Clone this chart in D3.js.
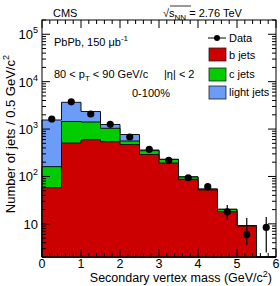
<!DOCTYPE html>
<html><head><meta charset="utf-8">
<script src="https://cdn.jsdelivr.net/npm/d3@7"></script>
<style>
html,body{margin:0;padding:0;background:#fff;}
text{font-family:"Liberation Sans",Arial,Helvetica,sans-serif;fill:#000;}
</style></head>
<body><svg id="c" width="280" height="286"></svg>
<script>
// ---- data ----
const binLow = [0,0.5,1,1.5,2,2.5,3,3.5,4,4.5,5,5.5];
const binWidth = 0.5;
const bJets =     [58, 508, 597, 541, 472, 291, 192, 87, 52, 18, 9, 0];
const cJets =     [103, 937, 813, 497, 88, 59, 36, 10.5, 2, 2.3, 0.2, 0];
const lightJets = [1392, 2225, 940, 210, 208, 12, 3, 1, 0.5, 0, 0, 0];
const dataVals =  [1630, 3760, 2080, 1262, 680, 374, 219, 94, 61, 18, 6.0, 8.4];
const dataErrHi = [40, 61, 46, 36, 26, 19, 15, 10, 8, 7, 7.3, 5.6];
const dataErrLo = [40, 61, 46, 36, 26, 19, 15, 10, 8, 6, 2.4, 5.9];
const xTicks = [0,1,2,3,4,5,6];
const yTickExp = [1,2,3,4,5];
const legendLabels = ["Data","b jets","c jets","light jets"];
const colors = {b:"#cc0000", c:"#00cc00", l:"#6a9cf8"};

const svg = d3.select("#c");
const X0=42, X1=276, Y0=20, Y1=257;
const x = d3.scaleLinear().domain([0,6]).range([X0,X1]);
const y = d3.scaleLog().domain([2,2e5]).range([Y1,Y0]).clamp(true);
const yv = v => v>0 ? y(v) : Y1;

// stacked cumulative levels
const lev1 = bJets.slice();
const lev2 = bJets.map((v,i)=>v+cJets[i]);
const lev3 = lev2.map((v,i)=>v+lightJets[i]);

function stepPath(vals){
  let p = `M${x(0)},${Y1}`;
  vals.forEach((v,i)=>{
    const lo=binLow[i], hi=lo+binWidth;
    p += `L${x(lo)},${yv(v)}L${x(hi)},${yv(v)}`;
  });
  p += `L${x(6)},${Y1}Z`;
  return p;
}
[[lev3,colors.l],[lev2,colors.c],[lev1,colors.b]].forEach(([vals,col])=>{
  svg.append("path").attr("d",stepPath(vals)).attr("fill",col)
    .attr("stroke","#111").attr("stroke-width",1);
});

// frame
svg.append("rect").attr("x",X0).attr("y",Y0).attr("width",X1-X0).attr("height",Y1-Y0)
  .attr("fill","none").attr("stroke","#000").attr("stroke-width",1);

// x ticks (bottom & top)
const xMinor = d3.range(0,6.001,0.2);
const g = svg.append("g").attr("stroke","#000").attr("stroke-width",1);
xMinor.forEach(t=>{
  const major = Math.abs(t-Math.round(t))<1e-6;
  const L = major?8:4;
  g.append("line").attr("x1",x(t)).attr("x2",x(t)).attr("y1",Y1).attr("y2",Y1-L);
  g.append("line").attr("x1",x(t)).attr("x2",x(t)).attr("y1",Y0).attr("y2",Y0+L);
});
// y ticks (left & right)
for(let e=0;e<=5;e++){
  for(let m=1;m<=9;m++){
    const v=m*Math.pow(10,e);
    if(v<2||v>2e5) continue;
    const L = m===1?8:4;
    g.append("line").attr("x1",X0).attr("x2",X0+L).attr("y1",y(v)).attr("y2",y(v));
    g.append("line").attr("x1",X1).attr("x2",X1-L).attr("y1",y(v)).attr("y2",y(v));
  }
}

// x tick labels
xTicks.forEach(t=>{
  svg.append("text").attr("x",x(t)).attr("y",268).attr("text-anchor","middle")
    .attr("font-size",12.5).text(t);
});
// y tick labels
yTickExp.forEach(e=>{
  const t = svg.append("text").attr("x",38).attr("y",y(Math.pow(10,e))+5)
    .attr("text-anchor","end").attr("font-size",13);
  t.append("tspan").text("10");
  if(e>1) t.append("tspan").attr("font-size",9).attr("dy",-6).text(e);
});

// data points
const dg = svg.append("g");
dataVals.forEach((v,i)=>{
  const cx = x(binLow[i]+binWidth/2);
  dg.append("line").attr("x1",cx).attr("x2",cx)
    .attr("y1",yv(v+dataErrHi[i])).attr("y2",yv(v-dataErrLo[i]))
    .attr("stroke","#000").attr("stroke-width",1.2);
  dg.append("circle").attr("cx",cx).attr("cy",yv(v)).attr("r",3.6).attr("fill","#000");
});

// axis titles
const xt = svg.append("text").attr("x",272).attr("y",282).attr("text-anchor","end").attr("font-size",12.5);
xt.append("tspan").text("Secondary vertex mass (GeV/c");
xt.append("tspan").attr("font-size",9).attr("dy",-5).text("2");
xt.append("tspan").attr("dy",5).text(")");

const yt = svg.append("text").attr("transform","translate(15,55) rotate(-90)")
  .attr("text-anchor","end").attr("font-size",13);
yt.append("tspan").text("Number of jets / 0.5 GeV/c");
yt.append("tspan").attr("font-size",9).attr("dy",-6).text("2");

// header
svg.append("text").attr("x",53).attr("y",17).attr("font-size",11).text("CMS");
const sq = svg.append("text").attr("x",163).attr("y",17).attr("font-size",11);
sq.append("tspan").text("√");
sq.append("tspan").text("s");
sq.append("tspan").attr("font-size",8).attr("dy",3).text("NN");
sq.append("tspan").attr("dy",-3).text(" = 2.76 TeV");
svg.append("line").attr("x1",170).attr("x2",191).attr("y1",6).attr("y2",6).attr("stroke","#000").attr("stroke-width",0.8);

// annotations
const a1 = svg.append("text").attr("x",54).attr("y",46).attr("font-size",11);
a1.append("tspan").text("PbPb, 150 μb");
a1.append("tspan").attr("font-size",8).attr("dy",-5).text("-1");
const a2 = svg.append("text").attr("x",54).attr("y",78).attr("font-size",11);
a2.append("tspan").text("80 < p");
a2.append("tspan").attr("font-size",8).attr("dy",3).text("T");
a2.append("tspan").attr("dy",-3).text(" < 90 GeV/c");
svg.append("text").attr("x",164).attr("y",78).attr("font-size",11).text("|η| < 2");
svg.append("text").attr("x",132).attr("y",97).attr("font-size",11).text("0-100%");

// legend
const lg = svg.append("g");
lg.append("line").attr("x1",208).attr("x2",226).attr("y1",38).attr("y2",38).attr("stroke","#000").attr("stroke-width",1);
lg.append("circle").attr("cx",217).attr("cy",38).attr("r",3).attr("fill","#000");
const boxY=[48,68,86];
[colors.b,colors.c,colors.l].forEach((c,i)=>{
  lg.append("rect").attr("x",209).attr("y",boxY[i]).attr("width",17).attr("height",13)
    .attr("fill",c).attr("stroke","#222").attr("stroke-width",0.8);
});
const ly=[42,59,78,96];
legendLabels.forEach((t,i)=>{
  lg.append("text").attr("x",229).attr("y",ly[i]).attr("font-size",11).text(t);
});
</script></body></html>
